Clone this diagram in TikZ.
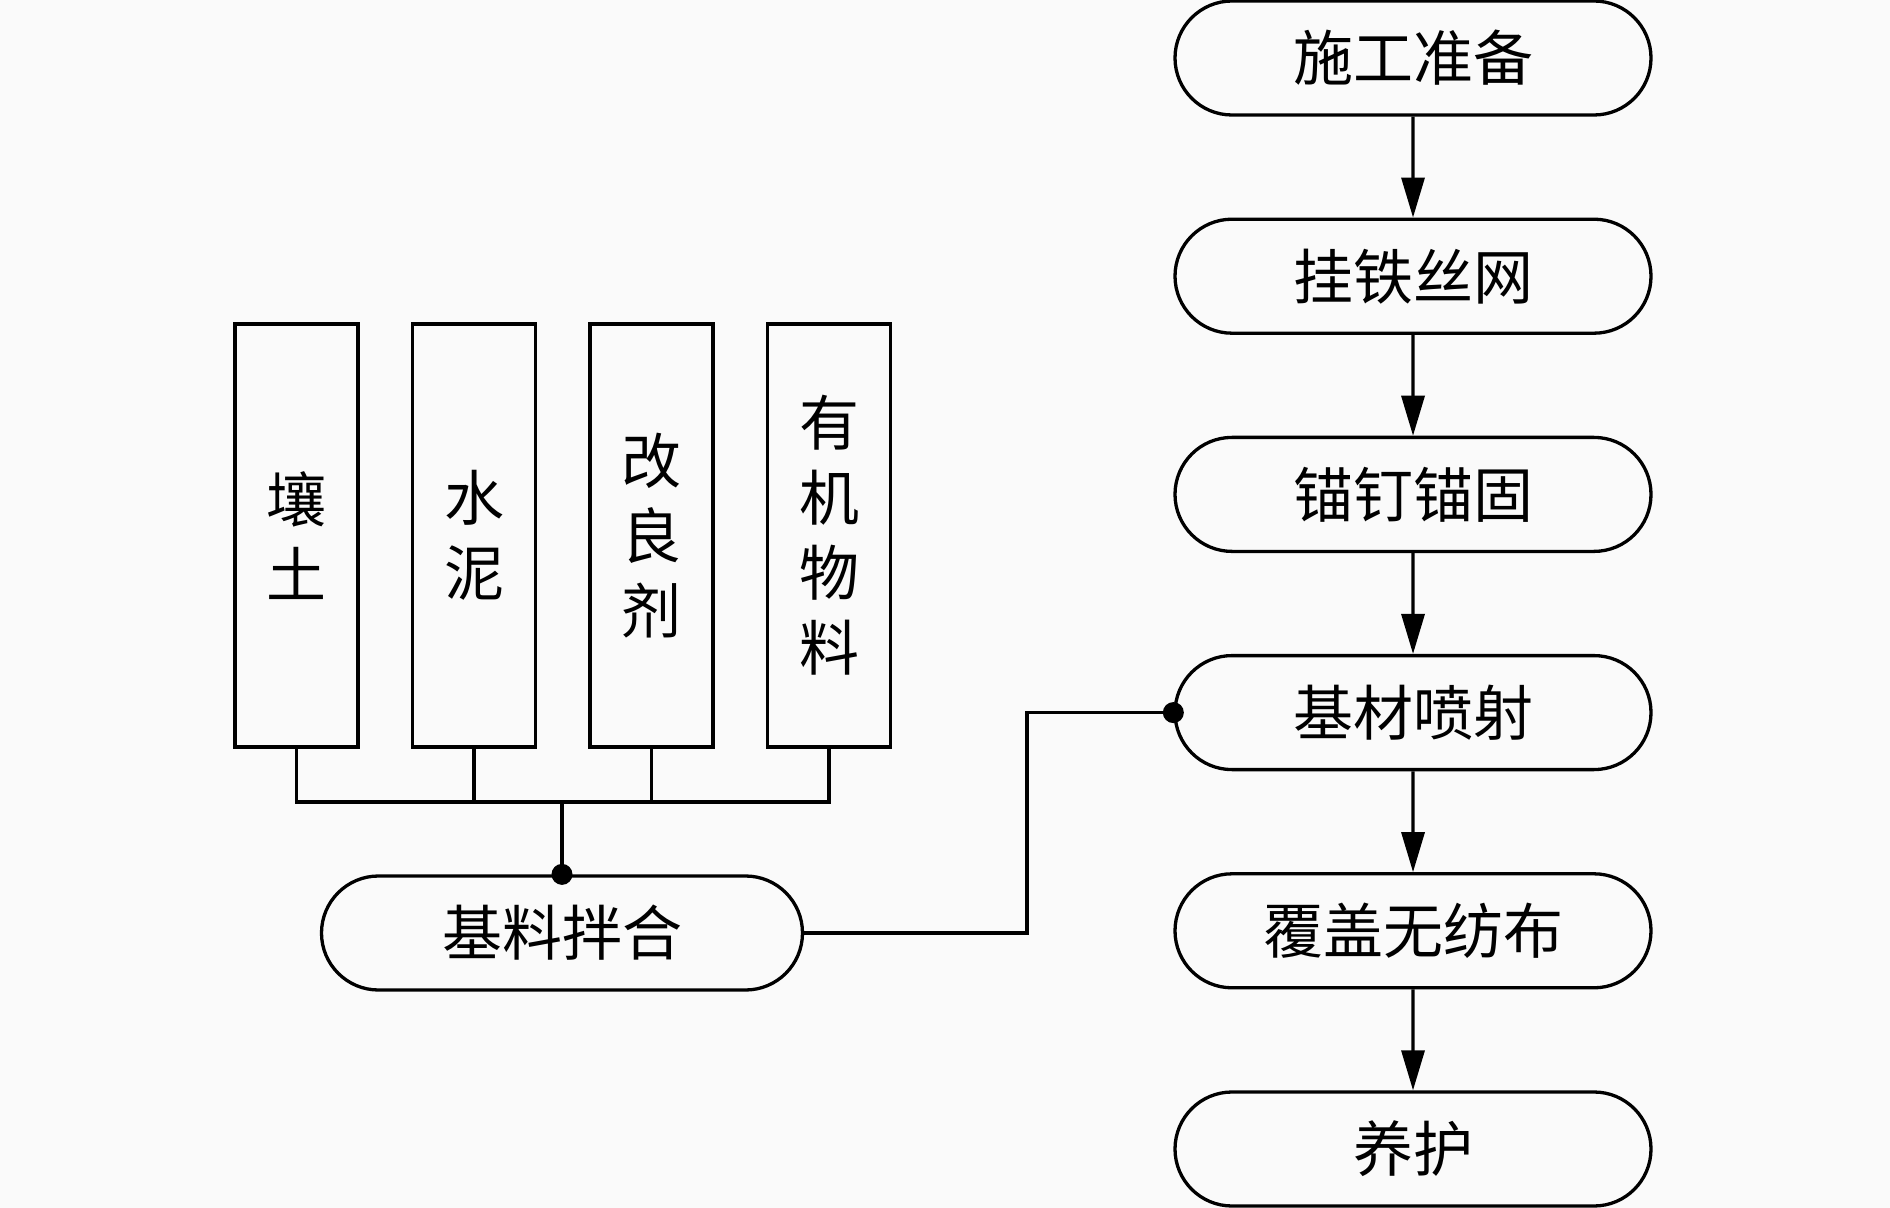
\documentclass[tikz,border=0pt]{standalone}
\usepackage{fontspec}
\setmainfont{Noto Sans CJK SC}
\usetikzlibrary{arrows.meta,shapes.misc}
\definecolor{bgc}{RGB}{250,250,250}
\tikzset{
  base/.style={line width=1.65pt, draw=black},
  proc/.style={base, rounded rectangle, rounded rectangle arc length=180, minimum width=238pt, minimum height=57pt, inner sep=0pt,
    font=\fontsize{30}{36}\selectfont},
  mat/.style={base, rectangle, minimum width=61.5pt, minimum height=211.5pt, inner sep=0pt, align=center,
    font=\fontsize{30}{37.5}\selectfont},
  flow/.style={base, -{Triangle[length=20pt,width=11.5pt]}},
  wire/.style={base},
  junc/.style={circle, fill=black, inner sep=0pt, minimum size=10.5pt}
}
\begin{document}
\begin{tikzpicture}[x=0.5pt,y=-0.5pt]
\fill[bgc] (0,0) rectangle (1890,1208);
\useasboundingbox (0,0) rectangle (1890,1208);
% right column
\node[proc] (s1) at (1413,58) {施工准备};
\node[proc] (s2) at (1413,276.2) {挂铁丝网};
\node[proc] (s3) at (1413,494.4) {锚钉锚固};
\node[proc] (s4) at (1413,712.6) {基材喷射};
\node[proc] (s5) at (1413,930.8) {覆盖无纺布};
\node[proc] (s6) at (1413,1149) {养护};
\draw[flow] (s1) -- (s2);
\draw[flow] (s2) -- (s3);
\draw[flow] (s3) -- (s4);
\draw[flow] (s4) -- (s5);
\draw[flow] (s5) -- (s6);
% material boxes
\node[mat] (b1) at (296.5,535.5) {壤\\土};
\node[mat] (b2) at (474,535.5) {水\\泥};
\node[mat] (b3) at (651.5,535.5) {改\\良\\剂};
\node[mat] (b4) at (829,535.5) {有\\机\\物\\料};
% mixing
\node[proc, minimum width=240.5pt] (mix) at (562,933) {基料拌合};
\coordinate (bus) at (562,802);
\draw[wire] (b1.south) -- (b1.south |- bus) -- (b4.south |- bus) -- (b4.south);
\draw[wire] (b2.south) -- (b2.south |- bus);
\draw[wire] (b3.south) -- (b3.south |- bus);
\draw[wire] (bus) -- (mix.north);
\node[junc] (j1) at (mix.north) {};
% link to spraying
\coordinate (bend) at (1027,933);
\draw[wire] (mix.east) -- (bend) |- (s4.west);
\node[junc] (j2) at (s4.west) {};
\end{tikzpicture}
\end{document}
